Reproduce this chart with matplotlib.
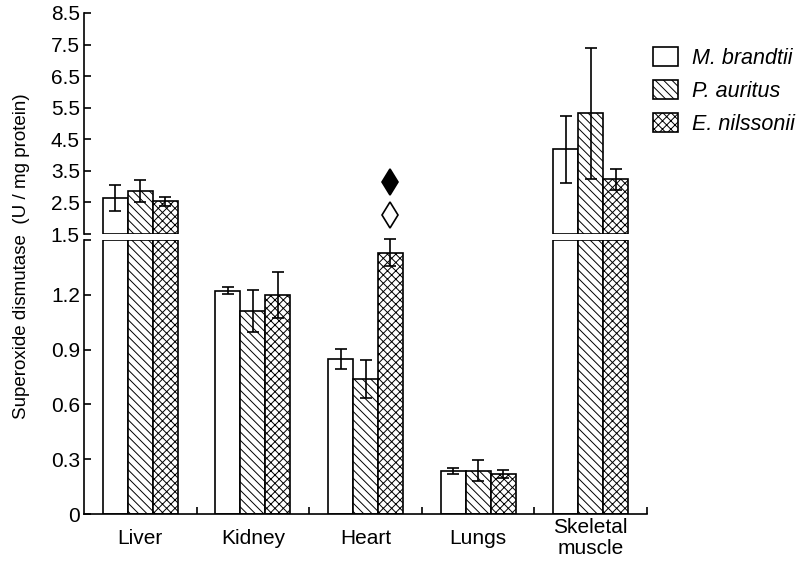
import numpy as np
import matplotlib
matplotlib.use("Agg")
import matplotlib.pyplot as plt
from matplotlib.transforms import offset_copy

plt.rcParams["font.family"] = ["Liberation Sans", "DejaVu Sans"]
plt.rcParams["hatch.linewidth"] = 0.7

# Data (U / mg protein)
organs = ["Liver", "Kidney", "Heart", "Lungs", "Skeletal\nmuscle"]
species = ["M. brandtii", "P. auritus", "E. nilssonii"]
brandtii = [2.63, 1.222, 0.849, 0.236, 4.18]
brandtii_err = [0.41, 0.02, 0.053, 0.016, 1.07]
auritus = [2.85, 1.109, 0.740, 0.238, 5.32]
auritus_err = [0.35, 0.115, 0.105, 0.06, 2.08]
nilssonii = [2.54, 1.198, 1.431, 0.218, 3.23]
nilssonii_err = [0.14, 0.127, 0.074, 0.021, 0.33]

lower_ticks = [0, 0.3, 0.6, 0.9, 1.2, 1.5]
lower_labels = ["0", "0.3", "0.6", "0.9", "1.2", ""]
upper_ticks = [1.5, 2.5, 3.5, 4.5, 5.5, 6.5, 7.5, 8.5]
brk = 1.5

means = [brandtii, auritus, nilssonii]
errs = [brandtii_err, auritus_err, nilssonii_err]
fills = ["white", "white", "white"]
hatches = [None, "\\\\\\\\", "xxxx"]

fig = plt.figure(figsize=(8.02, 5.66), dpi=100)
W, H = 802, 566
left, right = 84 / W, 647 / W
ax_top = fig.add_axes([left, 1 - 234 / H, right - left, (234 - 13) / H])
ax_low = fig.add_axes([left, 1 - 514 / H, right - left, (514 - 240) / H])

x = np.arange(len(organs))
bw = 0.222
handles = []
for i in range(3):
    pos = x + (i - 1) * bw
    m = np.array(means[i])
    e = np.array(errs[i])
    # lower part, clipped at the break
    b = ax_low.bar(pos, np.minimum(m, brk), bw, color=fills[i], edgecolor="black",
                   linewidth=1.2, hatch=hatches[i], label=species[i])
    handles.append(b)
    # upper part for values above the break
    hi = m > brk
    ax_top.bar(pos[hi], m[hi] - brk, bw, bottom=brk, color=fills[i], edgecolor="black",
               linewidth=1.2, hatch=hatches[i])
    ax_top.errorbar(pos[hi], m[hi], yerr=e[hi], fmt="none", ecolor="black",
                    elinewidth=1.2, capsize=4.5, capthick=1.2)
    ax_low.errorbar(pos[~hi], m[~hi], yerr=e[~hi], fmt="none", ecolor="black",
                    elinewidth=1.2, capsize=4.5, capthick=1.2, clip_on=False)

# significance diamonds above E. nilssonii heart
hx = x[2] + bw
hy = nilssonii[2] + nilssonii_err[2]
ax_low.plot(hx, hy, marker="d", markersize=13, mfc="white", mec="black", mew=1.2,
            clip_on=False, transform=offset_copy(ax_low.transData, fig, y=17, units="points"))
ax_low.plot(hx, hy, marker="d", markersize=13, mfc="black", mec="black", mew=1.2,
            clip_on=False, transform=offset_copy(ax_low.transData, fig, y=41, units="points"))

for ax in (ax_top, ax_low):
    ax.set_xlim(-0.5, len(organs) - 0.5)
    ax.spines["top"].set_visible(False)
    ax.spines["right"].set_visible(False)
    ax.spines["left"].set_linewidth(1.2)
    ax.tick_params(axis="y", direction="in", length=5, width=1.2, pad=3, labelsize=15)

ax_top.spines["bottom"].set_visible(False)
ax_top.set_ylim(brk, 8.5)
ax_top.set_yticks(upper_ticks)
ax_top.set_yticklabels([f"{t:.1f}" for t in upper_ticks])
ax_top.set_xticks([])

ax_low.set_ylim(0, brk)
ax_low.set_yticks(lower_ticks)
ax_low.set_yticklabels(lower_labels)
ax_low.spines["bottom"].set_linewidth(1.2)
ax_low.set_xticks(x)
ax_low.set_xticklabels(organs, fontsize=15, va="center", linespacing=1.15)
ax_low.set_xticks(np.arange(len(organs)) + 0.5, minor=True)
ax_low.tick_params(axis="x", which="major", length=0, pad=17.5)
ax_low.tick_params(axis="x", which="minor", direction="in", length=5, width=1.2)

fig.text(22 / W, 1 - 256 / H, "Superoxide dismutase  (U / mg protein)", rotation=90,
         ha="center", va="center", fontsize=13.5)

leg = fig.legend(handles=handles, loc="upper left", bbox_to_anchor=(653 / W, 1 - 47 / H),
                 frameon=False, borderpad=0, borderaxespad=0,
                 handlelength=1.15, handleheight=1.0, handletextpad=0.65, labelspacing=0.5,
                 prop={"style": "italic", "size": 15.5})

fig.savefig("out.png", dpi=100)
